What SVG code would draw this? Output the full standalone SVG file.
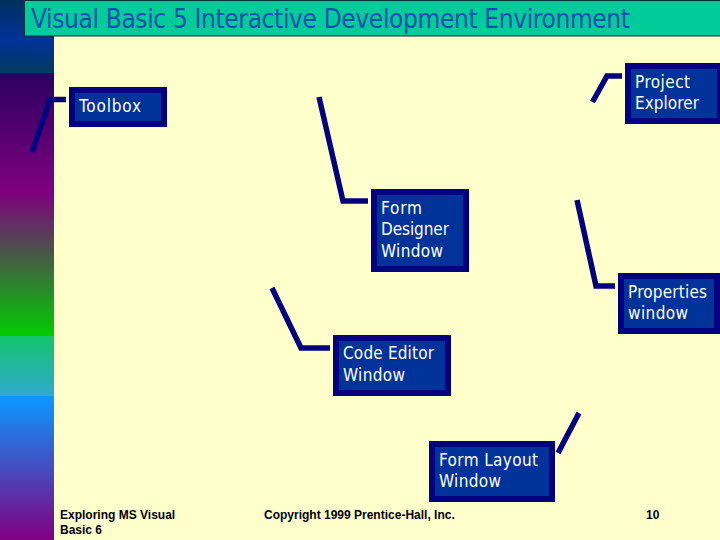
<svg xmlns="http://www.w3.org/2000/svg" width="720" height="540" viewBox="0 0 720 540">
<style>
.box{fill:#003399;stroke:#000080;stroke-width:6}
.lbl{font-family:"DejaVu Sans Condensed","DejaVu Sans",sans-serif;font-stretch:condensed;font-size:17px;fill:#fff}
.foot{font-family:"Liberation Sans",Arial,sans-serif;font-size:12px;font-weight:bold;fill:#000}
.conn{fill:none;stroke:#000080;stroke-width:5.5;stroke-linejoin:miter}
</style>
<defs>
<linearGradient id="g1" x1="0" y1="0" x2="0" y2="1"><stop offset="0" stop-color="#00305c"/><stop offset=".55" stop-color="#003399"/><stop offset="1" stop-color="#003a60"/></linearGradient>
<linearGradient id="g2" x1="0" y1="0" x2="0" y2="1"><stop offset="0" stop-color="#2a0060"/><stop offset="1" stop-color="#800080"/></linearGradient>
<linearGradient id="g3" x1="0" y1="0" x2="0" y2="1"><stop offset="0" stop-color="#800080"/><stop offset="1" stop-color="#00cc00"/></linearGradient>
<linearGradient id="g4" x1="0" y1="0" x2="0" y2="1"><stop offset="0" stop-color="#14c46c"/><stop offset="1" stop-color="#30a8d0"/></linearGradient>
<linearGradient id="g5" x1="0" y1="0" x2="0" y2="1"><stop offset="0" stop-color="#0a99ff"/><stop offset="1" stop-color="#800080"/></linearGradient>
</defs>
<rect width="720" height="540" fill="#ffffcc"/>
<rect x="0" y="0" width="54" height="73" fill="url(#g1)"/>
<rect x="0" y="73" width="54" height="119" fill="url(#g2)"/>
<rect x="0" y="192" width="54" height="144" fill="url(#g3)"/>
<rect x="0" y="336" width="54" height="60" fill="url(#g4)"/>
<rect x="0" y="396" width="54" height="144" fill="url(#g5)"/>
<g id="title">
<rect x="24.500" y="0.500" width="697" height="35.500" fill="#00cc99" stroke="#003333" stroke-width="1"/>
<text x="31" y="28" font-family="'DejaVu Sans Condensed','DejaVu Sans',sans-serif" font-stretch="condensed" font-size="26px" fill="#0f4fb0" textLength="599" lengthAdjust="spacing">Visual Basic 5 Interactive Development Environment</text>
</g>
<g id="connectors">
<polyline class="conn" points="32,152 50,99.500 66,99.500"/>
<polyline class="conn" points="592.500,102 607,76 622,76"/>
<polyline class="conn" points="319,97 343,201 368,201"/>
<polyline class="conn" points="577,200 596,286 615,286"/>
<polyline class="conn" points="272,288 301,348 330,348"/>
<polyline class="conn" points="579,413 558,453"/>
</g>
<g id="toolbox"><rect class="box" x="72" y="90" width="92" height="34"/><text class="lbl" x="79" y="112" textLength="62">Toolbox</text></g>
<g id="project-explorer"><rect class="box" x="628" y="66" width="92" height="55"/><text class="lbl" x="635" y="88" textLength="55">Project</text><text class="lbl" x="635" y="109" textLength="64">Explorer</text></g>
<g id="form-designer"><rect class="box" x="374" y="192" width="92" height="77"/><text class="lbl" x="381" y="214" textLength="41">Form</text><text class="lbl" x="381" y="235" textLength="68">Designer</text><text class="lbl" x="381" y="257" textLength="62">Window</text></g>
<g id="properties"><rect class="box" x="621" y="276" width="96" height="55"/><text class="lbl" x="628" y="298" textLength="79">Properties</text><text class="lbl" x="628" y="319" textLength="60">window</text></g>
<g id="code-editor"><rect class="box" x="336" y="338" width="112" height="55"/><text class="lbl" x="343" y="359" textLength="91">Code Editor</text><text class="lbl" x="343" y="381" textLength="62">Window</text></g>
<g id="form-layout"><rect class="box" x="432" y="444" width="120" height="55"/><text class="lbl" x="439" y="466" textLength="99">Form Layout</text><text class="lbl" x="439" y="487" textLength="62">Window</text></g>
<g id="footer">
<text class="foot" x="60" y="519">Exploring MS Visual</text>
<text class="foot" x="60" y="534">Basic 6</text>
<text class="foot" x="264" y="519">Copyright 1999 Prentice-Hall, Inc.</text>
<text class="foot" x="646" y="519">10</text>
</g>
</svg>
